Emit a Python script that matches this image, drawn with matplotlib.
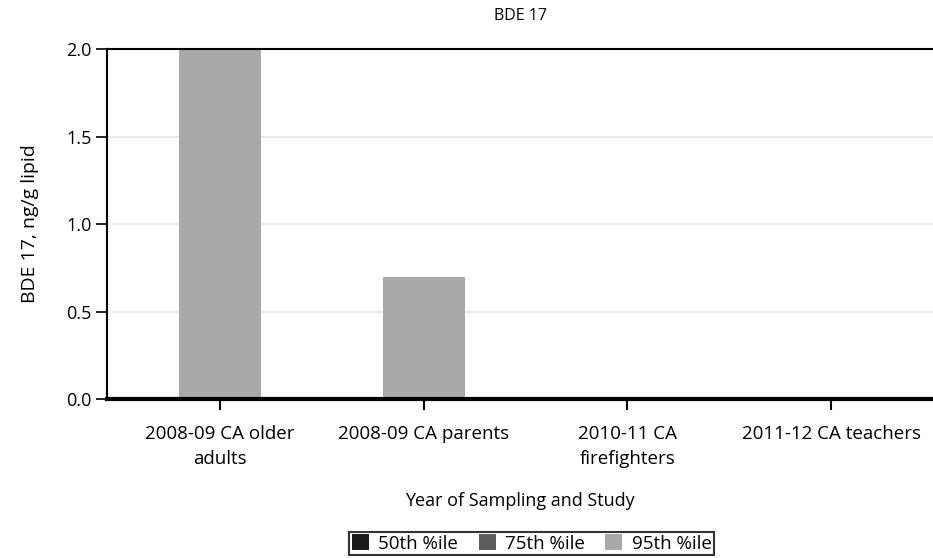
import matplotlib
matplotlib.use("Agg")
import matplotlib.pyplot as plt
import numpy as np

plt.rcParams['font.family'] = ['Open Sans', 'DejaVu Sans']

categories = ["2008-09 CA older\nadults", "2008-09 CA parents", "2010-11 CA\nfirefighters", "2011-12 CA teachers"]
p50 = [0.0, 0.0, 0.0, 0.0]
p75 = [0.0, 0.0, 0.0, 0.0]
p95 = [2.0, 0.7, 0.0, 0.0]
series_names = ["50th %ile", "75th %ile", "95th %ile"]
colors = ["#1a1a1a", "#5e5e5e", "#a9a9a9"]

fig = plt.figure(figsize=(9.33, 5.58), dpi=100)
ax = fig.add_axes([0.1147, 0.285, 0.8853, 0.627])

x = np.arange(len(categories))
w = 0.4
# draw largest first so smaller percentiles overlay
for vals, c, name in zip([p95, p75, p50], colors[::-1], series_names[::-1]):
    ax.bar(x, vals, width=w, color=c, label=name, zorder=2)

ax.set_xlim(-0.555, 3.5)
ax.set_ylim(0, 2.0)
ax.set_yticks([0, 0.5, 1.0, 1.5, 2.0])
ax.set_yticklabels(["0.0", "0.5", "1.0", "1.5", "2.0"], fontsize=13)
ax.set_xticks(x)
ax.set_xticklabels(categories, fontsize=13.5, linespacing=1.5)
ax.grid(axis='y', color='#e8e8e8', linewidth=1.2, zorder=0)
ax.set_axisbelow(True)

ax.spines['right'].set_visible(False)
ax.spines['top'].set_linewidth(1.5)
ax.spines['left'].set_linewidth(1.5)
ax.spines['bottom'].set_linewidth(3)
ax.spines['bottom'].set_zorder(3)
ax.tick_params(axis='y', length=8, width=1.2, pad=3)
ax.tick_params(axis='x', length=8, width=1.5, pad=11)

ax.set_title("BDE 17", fontsize=11.5, pad=21)
ax.set_xlabel("Year of Sampling and Study", fontsize=13, labelpad=17)
ax.set_ylabel("BDE 17, ng/g lipid", fontsize=14, labelpad=20)

handles, labels = ax.get_legend_handles_labels()
order = [labels.index(n) for n in series_names]
leg = fig.legend([handles[i] for i in order], [labels[i] for i in order],
                 loc='center', bbox_to_anchor=(0.570, 0.026), ncol=3, fontsize=13.5,
                 frameon=True, fancybox=False, edgecolor='black', handlelength=0.9,
                 handleheight=0.9, handletextpad=0.5, columnspacing=1.1,
                 borderpad=0.15)
leg.get_frame().set_linewidth(1.5)

fig.savefig("out.png", dpi=100)
